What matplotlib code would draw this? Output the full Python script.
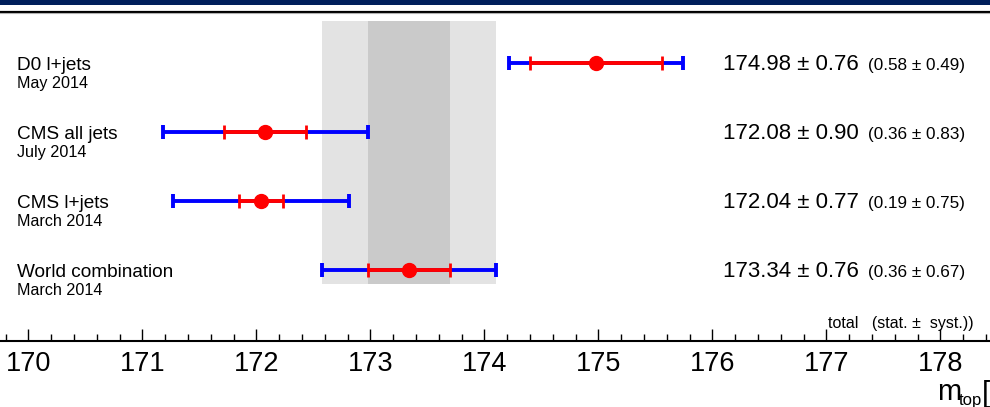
import matplotlib
matplotlib.use('Agg')
import matplotlib.pyplot as plt
from matplotlib.lines import Line2D
from matplotlib.patches import Rectangle
from matplotlib.ticker import MultipleLocator

# measurements (GeV)
names = ['D0 l+jets', 'CMS all jets', 'CMS l+jets', 'World combination']
dates = ['May 2014', 'July 2014', 'March 2014', 'March 2014']
mass = [174.98, 172.08, 172.04, 173.34]
total = [0.76, 0.90, 0.77, 0.76]
stat = [0.58, 0.36, 0.19, 0.36]
syst = [0.49, 0.83, 0.75, 0.67]
ticks = [170, 171, 172, 173, 174, 175, 176, 177, 178]

FONT = ['Liberation Sans Narrow', 'Liberation Sans', 'DejaVu Sans']
plt.rcParams['font.family'] = FONT

fig = plt.figure(figsize=(9.9, 4.07), dpi=100)
H = 407.0
# axes: bottom spine at pixel 341, top at pixel 14
ax = fig.add_axes([0, (H - 341) / H, 1, (341 - 14) / H])
ax.set_xlim(170 - 28.3 / 114, 170 + (990 - 28.3) / 114)
ax.set_ylim((341 - 63) / 69, (14 - 63) / 69)

rows = list(range(len(names)))

# world combination band (total + stat)
comb = names.index('World combination')
band_y = [(21 - 63) / 69, (284 - 63) / 69]
ax.fill_betweenx(band_y, mass[comb] - total[comb], mass[comb] + total[comb],
                 color='#e3e3e3', lw=0, zorder=0)
ax.fill_betweenx(band_y, mass[comb] - stat[comb], mass[comb] + stat[comb],
                 color='#cacaca', lw=0, zorder=0)

ax.errorbar(mass, rows, xerr=total, fmt='none', ecolor='#0000ff',
            elinewidth=2.8, capsize=5, capthick=2.8, zorder=2)
ax.errorbar(mass, rows, xerr=stat, fmt='o', color='#ff0000', ms=10,
            ecolor='#ff0000', elinewidth=2.8, capsize=5, capthick=2.0, zorder=3)

tr = ax.get_yaxis_transform()
for i in rows:
    ax.text(17 / 990, i + 0.10, names[i], transform=tr, fontsize=13.7,
            va='baseline', ha='left')
    ax.text(17 / 990, i + 0.36, dates[i], transform=tr, fontsize=11.6,
            va='baseline', ha='left')
    ax.text(723 / 990, i + 0.10, f'{mass[i]:.2f} ± {total[i]:.2f}',
            transform=tr, fontsize=16, va='baseline', ha='left')
    ax.text(868 / 990, i + 0.10, f'({stat[i]:.2f} ± {syst[i]:.2f})',
            transform=tr, fontsize=12.3, va='baseline', ha='left')

ax.text(828 / 990, (328 - 63) / 69, 'total   (stat. ±  syst.))', transform=tr,
        fontsize=11.5, va='baseline', ha='left')

# axis styling
for s in ['top', 'left', 'right']:
    ax.spines[s].set_visible(False)
ax.spines['bottom'].set_linewidth(1.5)
ax.set_yticks([])
ax.set_xticks(ticks)
ax.xaxis.set_minor_locator(MultipleLocator(0.2))
ax.tick_params(axis='x', which='major', direction='in', length=8.5, width=1,
               labelsize=19.5, pad=7)
ax.tick_params(axis='x', which='minor', direction='in', length=5, width=1)
ax.patch.set_alpha(0)

# axis title
fig.text(937 / 990, (H - 400) / H, 'm', fontsize=21, va='baseline', ha='left')
fig.text(959 / 990, (H - 405) / H, 'top', fontsize=12, va='baseline', ha='left')
fig.text(982 / 990, (H - 402) / H, '[', fontsize=21, va='baseline', ha='left')

# header decoration
fig.patches.append(Rectangle((0, (H - 5) / H), 1, 5 / H, transform=fig.transFigure,
                             color='#001f5b', lw=0))
fig.lines.append(Line2D([0, 1], [(H - 11.5) / H] * 2, transform=fig.transFigure,
                        color='black', lw=1.6))
fig.lines.append(Line2D([0, 1], [(H - 13) / H] * 2, transform=fig.transFigure,
                        color='#b0b0b0', lw=0.8))

fig.savefig('out.png', dpi=100)
